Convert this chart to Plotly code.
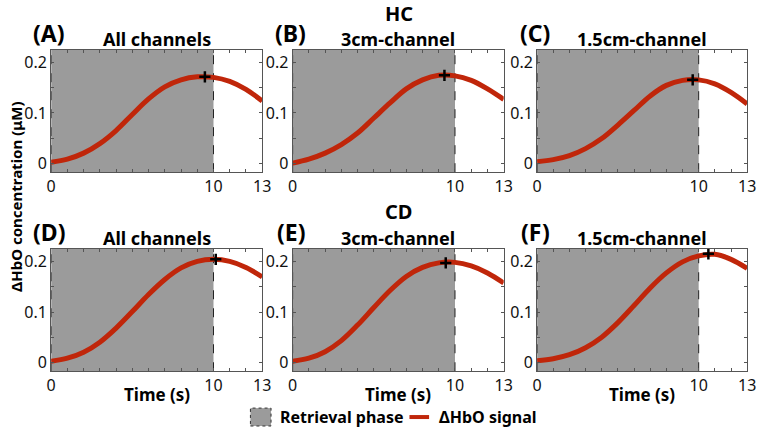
import plotly.graph_objects as go

# ---------------- data ----------------
time_s = [0, 1, 2, 3, 4, 5, 6, 7, 8, 9, 10, 11, 12, 13]

hbo_A = [0.002, 0.008, 0.020, 0.039, 0.065, 0.097, 0.128, 0.152, 0.166, 0.172, 0.171, 0.163, 0.147, 0.124]
hbo_B = [0.000, 0.008, 0.020, 0.037, 0.060, 0.090, 0.120, 0.148, 0.166, 0.175, 0.174, 0.165, 0.148, 0.127]
hbo_C = [0.003, 0.007, 0.015, 0.029, 0.049, 0.076, 0.105, 0.134, 0.155, 0.165, 0.166, 0.158, 0.141, 0.118]
hbo_D = [0.002, 0.008, 0.020, 0.040, 0.068, 0.101, 0.135, 0.165, 0.188, 0.201, 0.205, 0.201, 0.189, 0.170]
hbo_E = [0.002, 0.008, 0.021, 0.043, 0.074, 0.109, 0.143, 0.171, 0.189, 0.198, 0.199, 0.192, 0.178, 0.158]
hbo_F = [0.003, 0.007, 0.015, 0.029, 0.050, 0.079, 0.113, 0.148, 0.178, 0.200, 0.212, 0.215, 0.205, 0.187]

peak_t = [9.47, 9.35, 9.63, 10.14, 9.43, 10.6]
peak_v = [0.172, 0.175, 0.166, 0.205, 0.198, 0.216]

panel_letters = ["(A)", "(B)", "(C)", "(D)", "(E)", "(F)"]
panel_titles = ["All channels", "3cm-channel", "1.5cm-channel",
                "All channels", "3cm-channel", "1.5cm-channel"]
group_titles = ["HC", "CD"]

retrieval_start = 0
retrieval_end = 10

x_tickvals = list(range(0, 14))
x_ticktext = ["0", "", "", "", "", "", "", "", "", "", "10", "", "", "13"]
y_tickvals = [0, 0.05, 0.1, 0.15, 0.2]
y_ticktext = ["0", "", "0.1", "", "0.2"]
x_range = [0, 13]
y_range = [-0.018, 0.226]

series = [hbo_A, hbo_B, hbo_C, hbo_D, hbo_E, hbo_F]

# ---------------- style / layout ----------------
W, H = 765, 429
FONT = "Noto Sans"
GRAY = "#9b9b9b"
RED = "#c0260a"
FRAME = "#555555"

col_px = [(47, 262), (293, 508), (542, 756)]
row_px = [(50, 173), (250, 373)]


def px_x(p):
    return p / W


def px_y(p):
    return 1 - p / H


fig = go.Figure()
layout = {}
shapes = []
annotations = []

for i in range(6):
    r, c = divmod(i, 3)
    n = "" if i == 0 else str(i + 1)
    xa, ya = "x" + n, "y" + n
    x0p, x1p = col_px[c]
    y0p, y1p = row_px[r]
    layout["xaxis" + n] = dict(
        domain=[px_x(x0p), px_x(x1p)], anchor=ya, range=x_range,
        tickmode="array", tickvals=x_tickvals, ticktext=x_ticktext,
        ticks="inside", ticklen=3, tickcolor=FRAME, showline=True,
        linecolor=FRAME, linewidth=1, mirror="ticks", showgrid=False,
        zeroline=False, tickfont=dict(family=FONT, size=16, color="#111"),
        fixedrange=True,
    )
    layout["yaxis" + n] = dict(
        domain=[px_y(y1p), px_y(y0p)], anchor=xa, range=y_range,
        tickmode="array", tickvals=y_tickvals, ticktext=y_ticktext,
        ticks="inside", ticklen=3, tickcolor=FRAME, showline=True,
        linecolor=FRAME, linewidth=1, mirror="ticks", showgrid=False,
        zeroline=False, tickfont=dict(family=FONT, size=16, color="#111"),
        fixedrange=True,
    )
    # retrieval phase shading
    shapes.append(dict(type="rect", xref=xa, yref=ya + " domain",
                       x0=retrieval_start, x1=retrieval_end, y0=0, y1=1,
                       fillcolor=GRAY, line=dict(width=0), layer="below"))
    for xv in (retrieval_start, retrieval_end):
        shapes.append(dict(type="line", xref=xa, yref=ya + " domain",
                           x0=xv, x1=xv, y0=0, y1=1,
                           line=dict(color="#222", width=1, dash="dash"),
                           layer="below"))
    fig.add_trace(go.Scatter(
        x=time_s, y=series[i], xaxis=xa, yaxis=ya, mode="lines",
        line=dict(color=RED, width=5, shape="spline", smoothing=1.0),
        showlegend=False, hoverinfo="skip"))
    fig.add_trace(go.Scatter(
        x=[peak_t[i]], y=[peak_v[i]], xaxis=xa, yaxis=ya, mode="markers",
        marker=dict(symbol="cross-thin", size=8,
                    line=dict(color="black", width=2.5)),
        showlegend=False, hoverinfo="skip"))

    # panel letters and titles
    annotations.append(dict(text="<b>%s</b>" % panel_letters[i], xref="paper", yref="paper",
                            x=px_x(x0p - 2), y=px_y(y0p - 17), xanchor="center", yanchor="middle",
                            showarrow=False, font=dict(family=FONT, size=23, color="black")))
    annotations.append(dict(text="<b>%s</b>" % panel_titles[i], xref="paper", yref="paper",
                            x=px_x((x0p + x1p) / 2), y=px_y(y0p - 11), xanchor="center", yanchor="middle",
                            showarrow=False, font=dict(family=FONT, size=18, color="black")))
    if r == 1:
        annotations.append(dict(text="<b>Time (s)</b>", xref="paper", yref="paper",
                                x=px_x((x0p + x1p) / 2), y=px_y(396), xanchor="center", yanchor="middle",
                                showarrow=False, font=dict(family=FONT, size=17, color="black")))

for r, g in enumerate(group_titles):
    annotations.append(dict(text="<b>%s</b>" % g, xref="paper", yref="paper",
                            x=px_x(401), y=px_y(14 + 198 * r), xanchor="center", yanchor="middle",
                            showarrow=False, font=dict(family=FONT, size=20, color="black")))

annotations.append(dict(text="<b>ΔHbO concentration (μM)</b>", xref="paper", yref="paper",
                        x=px_x(11), y=px_y(198), xanchor="center", yanchor="middle", textangle=-90,
                        showarrow=False, font=dict(family=FONT, size=15, color="black")))

# manual legend
shapes.append(dict(type="rect", xref="paper", yref="paper",
                   x0=px_x(250), x1=px_x(271), y0=px_y(428), y1=px_y(410),
                   fillcolor=GRAY, line=dict(color="#333", width=1, dash="dot")))
annotations.append(dict(text="<b>Retrieval phase</b>", xref="paper", yref="paper",
                        x=px_x(278), y=px_y(419), xanchor="left", yanchor="middle",
                        showarrow=False, font=dict(family=FONT, size=16, color="black")))
shapes.append(dict(type="line", xref="paper", yref="paper",
                   x0=px_x(412), x1=px_x(432), y0=px_y(419), y1=px_y(419),
                   line=dict(color=RED, width=4)))
annotations.append(dict(text="<b>ΔHbO signal</b>", xref="paper", yref="paper",
                        x=px_x(440), y=px_y(419), xanchor="left", yanchor="middle",
                        showarrow=False, font=dict(family=FONT, size=16, color="black")))

fig.update_layout(
    width=W, height=H, margin=dict(l=0, r=0, t=0, b=0),
    paper_bgcolor="white", plot_bgcolor="white",
    shapes=shapes, annotations=annotations,
    font=dict(family=FONT),
    **layout,
)

fig.write_html("out.html", config={"displayModeBar": False},
               post_script="document.body.style.margin='0';document.body.style.padding='0';")
